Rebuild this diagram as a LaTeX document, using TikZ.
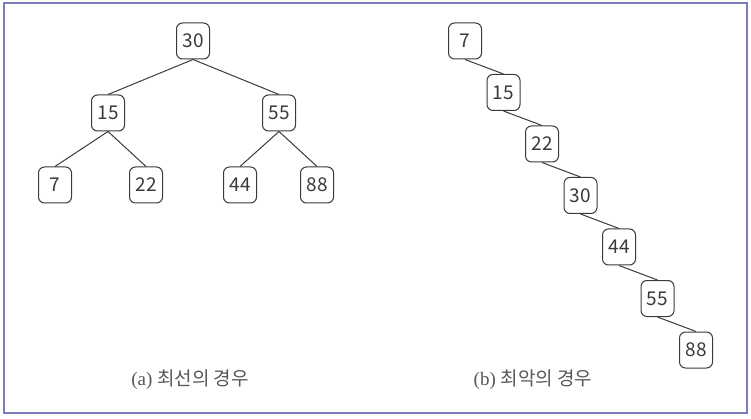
\documentclass[tikz,border=0pt]{standalone}
\usepackage{fontspec}
\setmainfont{Liberation Serif}
\newfontfamily\cjk{Noto Sans CJK KR}
\definecolor{framecol}{HTML}{7B7BBE}
\definecolor{inkcol}{HTML}{3A3A3A}
\tikzset{
  key/.style={draw=inkcol, line width=1pt, rounded corners=6pt,
    minimum width=33pt, minimum height=36pt, inner sep=0pt,
    text=inkcol, font=\cjk\fontsize{19}{19}\selectfont},
  link/.style={draw=inkcol, line width=1pt},
  caption/.style={text=inkcol!85, font=\fontsize{19}{19}\selectfont}
}

\begin{document}
\begin{tikzpicture}[x=1pt,y=-1pt]
  \useasboundingbox (0,0) rectangle (751,419);
  % outer frame
  \draw[framecol, line width=2pt] (4,3) rectangle (747,413);

  % (a) balanced tree
  \node[key] (a30) at (193,41) {30};
  \node[key] (a15) at (108,113) {15};
  \node[key] (a55) at (279,113) {55};
  \node[key] (a7)  at (55,185) {7};
  \node[key] (a22) at (146,185) {22};
  \node[key] (a44) at (240,185) {44};
  \node[key] (a88) at (317,185) {88};

  \draw[link] (a30.south) -- (a15.north);
  \draw[link] (a30.south) -- (a55.north);
  \draw[link] (a15.south) -- (a7.north);
  \draw[link] (a15.south) -- (a22.north);
  \draw[link] (a55.south) -- (a44.north);
  \draw[link] (a55.south) -- (a88.north);

  % (b) skewed tree, one step right and down each time
  \def\dx{38.5}
  \def\dy{51.5}
  \node[key] (b7)  at (465,41) {7};
  \node[key] (b15) at (465+\dx,41+\dy) {15};
  \node[key] (b22) at (465+2*\dx,41+2*\dy) {22};
  \node[key] (b30) at (465+3*\dx,41+3*\dy) {30};
  \node[key] (b44) at (465+4*\dx,41+4*\dy) {44};
  \node[key] (b55) at (465+5*\dx,41+5*\dy) {55};
  \node[key] (b88) at (465+6*\dx,41+6*\dy) {88};

  \draw[link] (b7.south) -- (b15.north);
  \draw[link] (b15.south) -- (b22.north);
  \draw[link] (b22.south) -- (b30.north);
  \draw[link] (b30.south) -- (b44.north);
  \draw[link] (b44.south) -- (b55.north);
  \draw[link] (b55.south) -- (b88.north);

  % captions
  \node[caption] (capA) at (190,380) {(a) {\cjk 최선의 경우}};
  \node[caption] (capB) at (533,380) {(b) {\cjk 최악의 경우}};
\end{tikzpicture}
\end{document}
